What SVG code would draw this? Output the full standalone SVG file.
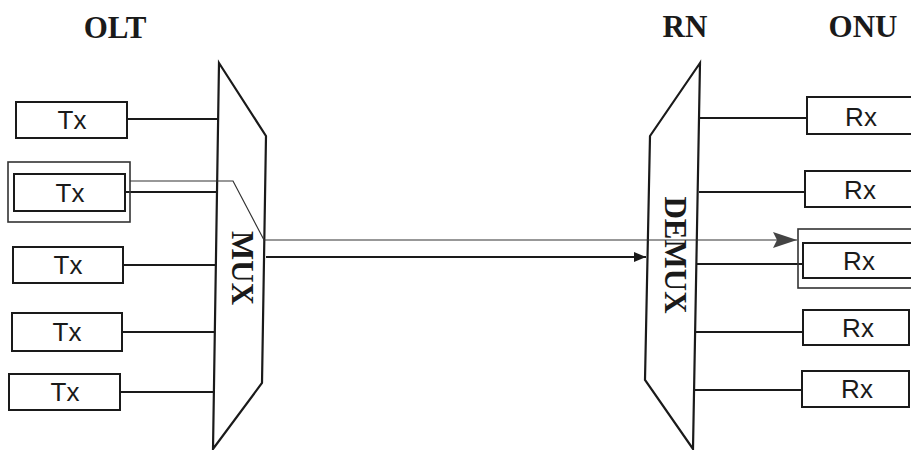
<svg xmlns="http://www.w3.org/2000/svg" width="911" height="450" viewBox="0 0 911 450">
<defs>
<style>
.box{fill:none;stroke:#1a1a1a;stroke-width:2}
.hl{fill:none;stroke:#333;stroke-width:1.6}
.ln{fill:none;stroke:#1a1a1a;stroke-width:2}
.thin{fill:none;stroke:#333;stroke-width:1.2}
.lbl{font-family:"Liberation Sans",Arial,sans-serif;font-size:26px;fill:#1a1a1a;text-anchor:middle}
.hdr{font-family:"Liberation Serif","Times New Roman",serif;font-size:31px;font-weight:bold;fill:#1a1a1a;text-anchor:middle}
.dev{fill:none;stroke:#1a1a1a;stroke-width:2.2;stroke-linejoin:miter}
</style>
<marker id="ah" viewBox="0 0 12 10" refX="12" refY="5" markerWidth="12" markerHeight="10" markerUnits="userSpaceOnUse" orient="auto">
<path d="M0,0 L12,5 L0,10 Z" fill="#1a1a1a"/>
</marker>
<marker id="ah2" viewBox="0 0 24 16" refX="24" refY="8" markerWidth="24" markerHeight="16" markerUnits="userSpaceOnUse" orient="auto">
<path d="M0,0 L24,8 L0,16 L4,8 Z" fill="#444"/>
</marker>
</defs>
<rect width="911" height="450" fill="#fff"/>
<text class="hdr" x="115" y="38">OLT</text>
<text class="hdr" x="685" y="37">RN</text>
<text class="hdr" x="863" y="37">ONU</text>
<g id="mux">
<path class="dev" d="M219,63 L266,136 L262,383 L213,449 Z"/>
<text class="hdr" transform="translate(232,268) rotate(90)" font-size="32">MUX</text>
</g>
<g id="demux">
<path class="dev" d="M700,63 L650,136 L645,380 L693,449 Z"/>
<text class="hdr" transform="translate(665,255) rotate(90)" font-size="32">DEMUX</text>
</g>
<g id="connectors">
<line class="ln" x1="127" y1="119" x2="218" y2="119"/>
<line class="ln" x1="125" y1="192" x2="217" y2="192"/>
<line class="ln" x1="123" y1="265" x2="216" y2="265"/>
<line class="ln" x1="122" y1="332" x2="215" y2="332"/>
<line class="ln" x1="120" y1="392" x2="214" y2="392"/>
<line class="ln" x1="700" y1="118" x2="807" y2="118"/>
<line class="ln" x1="699" y1="192" x2="805" y2="192"/>
<line class="ln" x1="697" y1="264" x2="803" y2="264"/>
<line class="ln" x1="696" y1="332" x2="803" y2="332"/>
<line class="ln" x1="695" y1="390" x2="802" y2="390"/>
<line class="ln" x1="266" y1="257" x2="646" y2="257" marker-end="url(#ah)"/>
<path class="thin" d="M130,181 L233,181 L264,240 L797,240" marker-end="url(#ah2)"/>
</g>
<g id="tx1"><rect class="box" x="16" y="102" width="111" height="36"/><text class="lbl" x="72" y="129">Tx</text></g>
<g id="tx2"><rect class="hl" x="8" y="162" width="122" height="60"/><rect class="box" x="14" y="174" width="111" height="37"/><text class="lbl" x="70" y="202">Tx</text></g>
<g id="tx3"><rect class="box" x="13" y="247" width="110" height="36"/><text class="lbl" x="68" y="274">Tx</text></g>
<g id="tx4"><rect class="box" x="12" y="313" width="110" height="38"/><text class="lbl" x="67" y="341">Tx</text></g>
<g id="tx5"><rect class="box" x="9" y="374" width="111" height="36"/><text class="lbl" x="65" y="401">Tx</text></g>
<g id="rx1"><rect class="box" x="807" y="97" width="106" height="37"/><text class="lbl" x="861" y="126">Rx</text></g>
<g id="rx2"><rect class="box" x="805" y="171" width="108" height="36"/><text class="lbl" x="860" y="199">Rx</text></g>
<g id="rx3"><rect class="hl" x="798" y="229" width="120" height="59"/><rect class="box" x="803" y="243" width="110" height="35"/><text class="lbl" x="859" y="270">Rx</text></g>
<g id="rx4"><rect class="box" x="803" y="310" width="106" height="35"/><text class="lbl" x="858" y="337">Rx</text></g>
<g id="rx5"><rect class="box" x="802" y="371" width="107" height="36"/><text class="lbl" x="857" y="398">Rx</text></g>
</svg>
